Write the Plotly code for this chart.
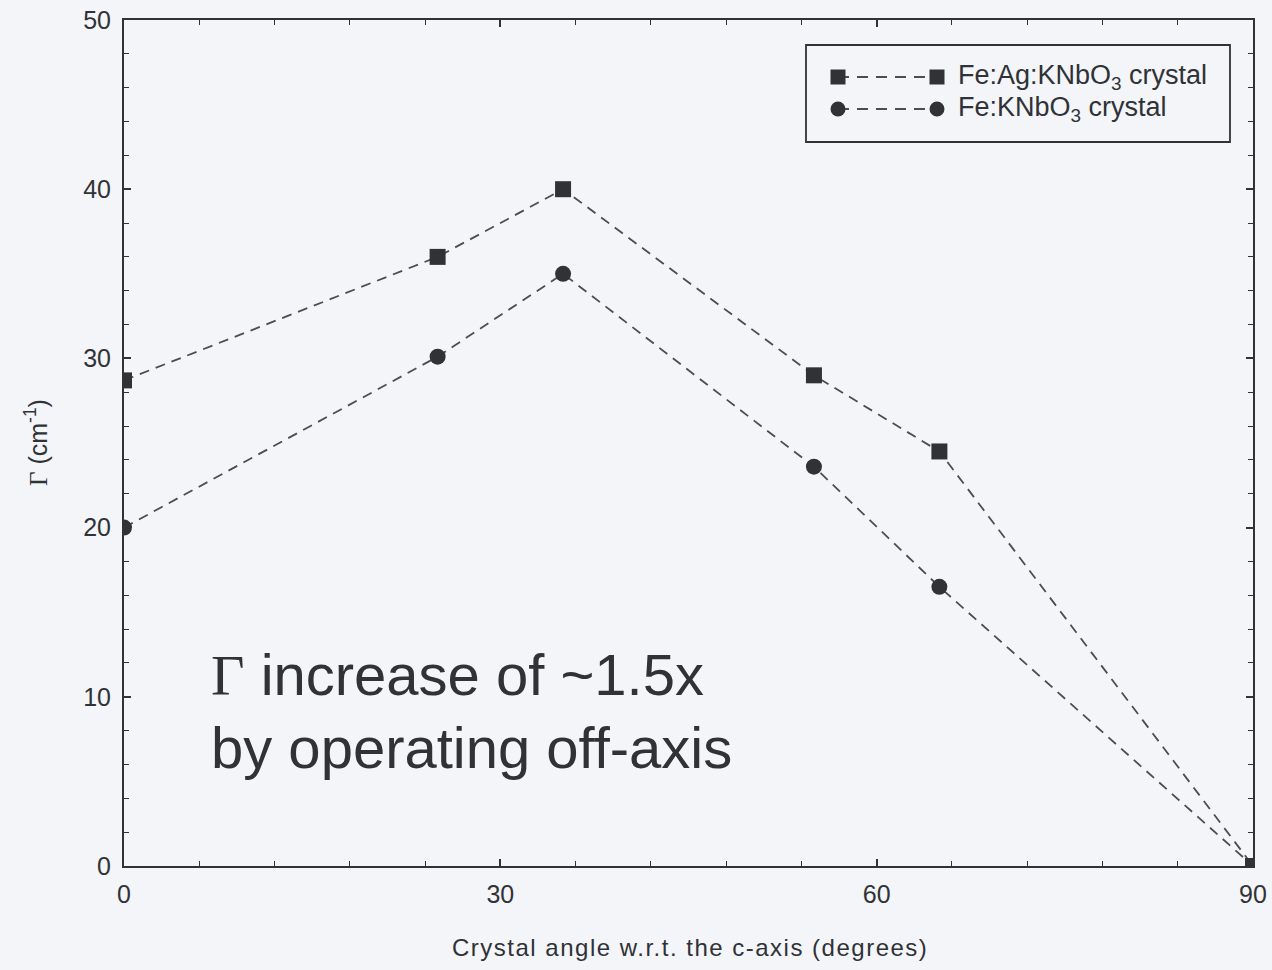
import plotly.graph_objects as go

angles = [0, 25, 35, 55, 65, 90]
fe_ag_knbo3 = [28.7, 36.0, 40.0, 29.0, 24.5, 0.0]
fe_knbo3 = [20.0, 30.1, 35.0, 23.6, 16.5, 0.0]
series_names = ["Fe:Ag:KNbO<sub>3</sub> crystal", "Fe:KNbO<sub>3</sub> crystal"]
x_ticks = [0, 30, 60, 90]
y_ticks = [0, 10, 20, 30, 40, 50]

BG = "#f4f5f9"
INK = "#2f3236"
LINE = "#4a4d52"
SANS = "Liberation Sans, Arial"
SERIF = "Liberation Serif, Times New Roman"

fig = go.Figure()
fig.add_trace(go.Scatter(
    x=angles, y=fe_ag_knbo3, mode="lines+markers", name=series_names[0],
    line=dict(color=LINE, width=1.8, dash="10px,7px"),
    marker=dict(symbol="square", size=16, color=INK),
    showlegend=False))
fig.add_trace(go.Scatter(
    x=angles, y=fe_knbo3, mode="lines+markers", name=series_names[1],
    line=dict(color=LINE, width=1.8, dash="10px,7px"),
    marker=dict(symbol="circle", size=16, color=INK),
    showlegend=False))

axis_common = dict(
    showgrid=False, zeroline=False, showline=True, linecolor=INK, linewidth=2,
    mirror="ticks", ticks="inside", ticklen=7, tickwidth=1.5, tickcolor=INK,
    tickfont=dict(family=SANS, size=25, color=INK), ticklabeloverflow="allow",
    automargin=False,
)
fig.update_xaxes(range=[0, 90], tickvals=x_ticks, ticklabelstandoff=5,
                 minor=dict(dtick=6, ticks="inside", ticklen=5, tickwidth=1.2, tickcolor=INK),
                 **axis_common)
fig.update_yaxes(range=[0, 50], tickvals=y_ticks, ticklabelstandoff=6,
                 minor=dict(dtick=2, ticks="inside", ticklen=5, tickwidth=1.2, tickcolor=INK),
                 **axis_common)

# pixel -> paper helpers (plot area spans px 124..1253, py 20..866)
def px2x(px):
    return (px - 124) / 1129.0

def py2y(py):
    return (866 - py) / 846.0

# Legend drawn manually (box, dashed line samples, markers, labels)
shapes = [dict(type="rect", xref="paper", yref="paper",
               x0=px2x(806), x1=px2x(1230), y0=py2y(142), y1=py2y(45),
               line=dict(color=INK, width=1.8), fillcolor=BG, layer="above")]
annotations = []
rows = [(77, "square"), (109, "circle")]
for (py, sym), name in zip(rows, series_names):
    yc = py2y(py)
    shapes.append(dict(type="line", xref="paper", yref="paper",
                       x0=px2x(838), x1=px2x(937), y0=yc, y1=yc,
                       line=dict(color=LINE, width=1.8, dash="11px,8px"), layer="above"))
    for cx in (838, 937):
        h = 7.5
        if sym == "square":
            shapes.append(dict(type="rect", xref="paper", yref="paper",
                               x0=px2x(cx - h), x1=px2x(cx + h),
                               y0=py2y(py + h), y1=py2y(py - h),
                               fillcolor=INK, line=dict(width=0), layer="above"))
        else:
            shapes.append(dict(type="circle", xref="paper", yref="paper",
                               x0=px2x(cx - h), x1=px2x(cx + h),
                               y0=py2y(py + h), y1=py2y(py - h),
                               fillcolor=INK, line=dict(width=0), layer="above"))
    annotations.append(dict(xref="paper", yref="paper", x=px2x(956), y=yc,
                            xanchor="left", yanchor="middle", showarrow=False,
                            text=name,
                            font=dict(family=SANS, size=27, color=INK)))

annotations += [
    dict(xref="paper", yref="paper", x=px2x(209), y=py2y(675),
         xanchor="left", yanchor="middle", showarrow=False, align="left",
         text=f"<span style='font-family:{SERIF}'>Γ</span> increase of ~1.5x",
         font=dict(family=SANS, size=58, color=INK)),
    dict(xref="paper", yref="paper", x=px2x(209), y=py2y(747),
         xanchor="left", yanchor="middle", showarrow=False, align="left",
         text="by operating off-axis",
         font=dict(family=SANS, size=58, color=INK)),
    dict(xref="paper", yref="paper", x=px2x(690), y=py2y(947),
         xanchor="center", yanchor="middle", showarrow=False,
         text="<span style='letter-spacing:1.5px'>Crystal angle w.r.t. the c-axis (degrees)</span>",
         font=dict(family=SANS, size=24, color=INK)),
    dict(xref="paper", yref="paper", x=px2x(36), y=py2y(443),
         xanchor="center", yanchor="middle", showarrow=False, textangle=-90,
         text=f"<span style='font-family:{SERIF}'>Γ</span> (cm<sup>-1</sup>)",
         font=dict(family=SANS, size=25, color=INK)),
]

fig.update_layout(
    width=1272, height=970,
    margin=dict(l=124, r=19, t=20, b=104, autoexpand=False),
    paper_bgcolor=BG, plot_bgcolor=BG,
    shapes=shapes, annotations=annotations,
    showlegend=False,
)

# remove the default page margin so the 1272x970 figure fills the window exactly
fig.write_html("out.html",
               config={"displayModeBar": False},
               post_script="document.body.style.margin='0';document.body.style.background='%s';" % BG)
